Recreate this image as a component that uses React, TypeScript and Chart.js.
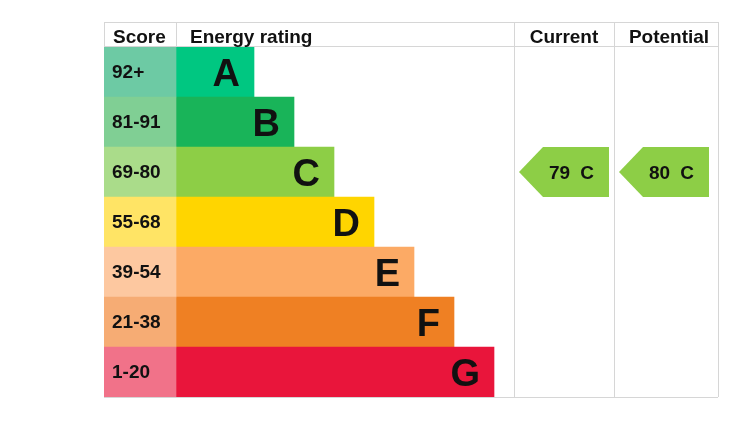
import React, { useEffect, useRef } from "react";
import { Chart, registerables } from "chart.js";

Chart.register(...registerables);

// ---- data ----
const bands = ["A", "B", "C", "D", "E", "F", "G"];
const scoreRanges = ["92+", "81-91", "69-80", "55-68", "39-54", "21-38", "1-20"];
const bandMinScores = [92, 81, 69, 55, 39, 21, 1];
const barLengths = [78, 118, 158, 198, 238, 278, 318];
const barColors = ["#00c781", "#19b459", "#8dce46", "#ffd500", "#fcaa65", "#ef8023", "#e9153b"];
const scoreColors = ["#6dcaa4", "#80cf94", "#aadc8a", "#ffe465", "#fdc8a0", "#f6ac74", "#f17289"];
const headerLabels = ["Score", "Energy rating", "Current", "Potential"];
const currentScore = 79;
const potentialScore = 80;

// column boundaries on the x axis (table units)
const SCORE_END = 72;
const RATING_END = 410;
const CURRENT_END = 510;
const POTENTIAL_END = 614;
const HEADER_H = 25;

const FONT = '"Liberation Sans", Arial, Helvetica, sans-serif';
const LINE = "#d6d6d6";
const TEXT = "#111111";

function bandIndex(score: number) {
  for (let i = 0; i < bandMinScores.length; i++) if (score >= bandMinScores[i]) return i;
  return bandMinScores.length - 1;
}

const tablePlugin = {
  id: "epcTable",
  beforeDatasetsDraw(chart: any) {
    const { ctx, chartArea, scales } = chart;
    const x = scales.x;
    const top = chartArea.top - HEADER_H;
    const bottom = chartArea.bottom;
    const x0 = x.getPixelForValue(0);
    const xs = x.getPixelForValue(SCORE_END);
    const xr = x.getPixelForValue(RATING_END);
    const xc = x.getPixelForValue(CURRENT_END);
    const xp = x.getPixelForValue(POTENTIAL_END);
    ctx.save();
    ctx.strokeStyle = LINE;
    ctx.lineWidth = 1;
    const line = (ax: number, ay: number, bx: number, by: number) => {
      ctx.beginPath();
      ctx.moveTo(ax, ay);
      ctx.lineTo(bx, by);
      ctx.stroke();
    };
    line(x0, top + 0.5, xp, top + 0.5);
    line(x0, chartArea.top - 0.5, xp, chartArea.top - 0.5);
    line(x0, bottom + 0.5, xp, bottom + 0.5);
    line(x0 + 0.5, top, x0 + 0.5, bottom);
    line(xs + 0.5, top, xs + 0.5, chartArea.top);
    line(xr + 0.5, top, xr + 0.5, bottom);
    line(xc + 0.5, top, xc + 0.5, bottom);
    line(xp + 0.5, top, xp + 0.5, bottom);
    ctx.restore();
  },
  afterDatasetsDraw(chart: any) {
    const { ctx, chartArea, scales } = chart;
    const x = scales.x;
    const y = scales.y;
    const x0 = x.getPixelForValue(0);
    const xs = x.getPixelForValue(SCORE_END);
    const xr = x.getPixelForValue(RATING_END);
    const xc = x.getPixelForValue(CURRENT_END);
    const xp = x.getPixelForValue(POTENTIAL_END);
    const rowH = (chartArea.bottom - chartArea.top) / bands.length;
    ctx.save();
    ctx.fillStyle = TEXT;
    ctx.textBaseline = "alphabetic";

    // header
    const hb = chartArea.top - 4;
    ctx.font = `bold 19px ${FONT}`;
    ctx.textAlign = "left";
    ctx.fillText(headerLabels[0], x0 + 9, hb);
    ctx.fillText(headerLabels[1], xs + 14, hb);
    ctx.textAlign = "center";
    ctx.fillText(headerLabels[2], (xr + xc) / 2, hb);
    ctx.fillText(headerLabels[3], (xc + xp) / 2 + 3, hb);

    // rows
    bands.forEach((b, i) => {
      const cy = y.getPixelForValue(i);
      ctx.font = `bold 19px ${FONT}`;
      ctx.textAlign = "left";
      ctx.fillText(scoreRanges[i], x0 + 8, cy + 6);
      ctx.font = `bold 38px ${FONT}`;
      ctx.textAlign = "right";
      ctx.fillText(b, x.getPixelForValue(SCORE_END + barLengths[i]) - 14, cy + 14);
    });

    // arrows
    const drawArrow = (colLeft: number, score: number) => {
      const idx = bandIndex(score);
      const cy = y.getPixelForValue(idx);
      const t = cy - rowH / 2;
      const btm = cy + rowH / 2;
      const tip = colLeft + 5;
      const right = tip + 90;
      ctx.beginPath();
      ctx.moveTo(tip, cy);
      ctx.lineTo(tip + 24, t);
      ctx.lineTo(right, t);
      ctx.lineTo(right, btm);
      ctx.lineTo(tip + 24, btm);
      ctx.closePath();
      ctx.fillStyle = barColors[idx];
      ctx.fill();
      ctx.fillStyle = TEXT;
      ctx.font = `bold 19px ${FONT}`;
      ctx.textAlign = "left";
      ctx.fillText(String(score), tip + 30, cy + 7);
      ctx.textAlign = "right";
      ctx.fillText(bands[idx], tip + 75, cy + 7);
    };
    drawArrow(xr, currentScore);
    drawArrow(xc, potentialScore);
    ctx.restore();
  },
};

export default function App() {
  const ref = useRef<HTMLCanvasElement>(null);
  useEffect(() => {
    if (!ref.current) return;
    const chart = new Chart(ref.current, {
      type: "bar",
      data: {
        labels: bands,
        datasets: [
          {
            label: "Score",
            data: bands.map(() => [0, SCORE_END]) as any,
            backgroundColor: scoreColors,
            borderWidth: 0,
            grouped: false,
            barPercentage: 1,
            categoryPercentage: 1,
          },
          {
            label: "Energy rating",
            data: barLengths.map((l) => [SCORE_END, SCORE_END + l]) as any,
            backgroundColor: barColors,
            borderWidth: 0,
            grouped: false,
            barPercentage: 1,
            categoryPercentage: 1,
          },
        ],
      },
      options: {
        indexAxis: "y",
        responsive: false,
        animation: false,
        layout: { padding: { left: 104, top: 47, right: 12, bottom: 47 } },
        scales: {
          x: { type: "linear", min: 0, max: POTENTIAL_END, display: false },
          y: { type: "category", display: false, offset: true },
        },
        plugins: { legend: { display: false }, tooltip: { enabled: false } },
      },
      plugins: [tablePlugin],
    });
    return () => chart.destroy();
  }, []);
  return (
    <div style={{ position: "absolute", left: 0, top: 0, width: 730, height: 444, background: "#fff" }}>
      <canvas ref={ref} width={730} height={444} style={{ display: "block" }} />
    </div>
  );
}
